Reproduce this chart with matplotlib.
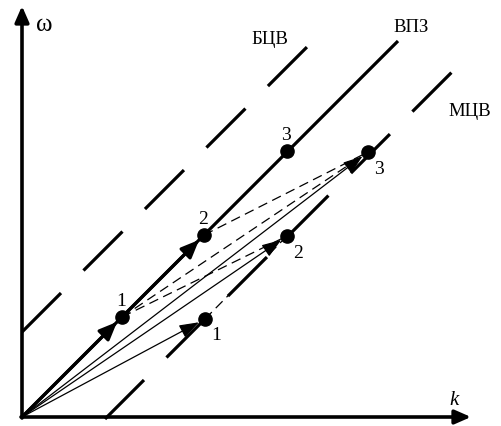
import matplotlib
matplotlib.use("Agg")
import matplotlib.pyplot as plt

plt.rcParams['font.family'] = ['Liberation Serif', 'DejaVu Serif']
plt.rcParams['lines.scale_dashes'] = False

# points on the ВПЗ line and on the МЦВ line
k_vpz = [100, 182, 265]
w_vpz = [100, 182, 266]
k_mcv = [183, 265, 346]
w_mcv = [98, 181, 265]
point_labels = ['1', '2', '3']

# the three dispersion lines: omega = k + shift, drawn between k_from and k_to
line_names = ['БЦВ', 'ВПЗ', 'МЦВ']
line_shift = [85, 0, -85]
line_k_from = [0, 0, 83]
line_k_to = [286, 376, 431]

k_max = 449
w_max = 411

fig = plt.figure(figsize=(5.01, 4.27), dpi=100)
ax = fig.add_axes([0, 0, 1, 1])
ax.set_xlim(-22, 479)
ax.set_ylim(-9, 418)
ax.set_axis_off()

# axes with arrows
axis_arrow = dict(arrowstyle='-|>,head_length=0.8,head_width=0.35', lw=2.6,
                  color='black', shrinkA=0, shrinkB=0, mutation_scale=12)
ax.annotate('', xy=(0, w_max), xytext=(0, -1), arrowprops=axis_arrow)
ax.annotate('', xy=(k_max, 0), xytext=(-1, 0), arrowprops=axis_arrow)
ax.text(14, 393, 'ω', fontsize=18, ha='left', va='center')
ax.text(432, 17, 'k', fontsize=15, style='italic', ha='center', va='center')

# dispersion lines
long_dash = (39.7, 22.9)
for name, s, k0, k1 in zip(line_names, line_shift, line_k_from, line_k_to):
    if s == 0:
        ax.plot([k0, k1], [k0 + s, k1 + s], color='black', lw=2.3,
                solid_capstyle='butt')
    else:
        ax.plot([k0, k1], [k0 + s, k1 + s], color='black', lw=2.3,
                dashes=long_dash, dash_capstyle='butt')

ax.text(248, 378, 'БЦВ', fontsize=13.5, ha='center', va='center')
ax.text(389, 390, 'ВПЗ', fontsize=13.5, ha='center', va='center')
ax.text(448, 307, 'МЦВ', fontsize=13.5, ha='center', va='center')

# thin dashed transitions between the points
thin_dash = (7, 4)
pairs = [((k_vpz[0], w_vpz[0]), (k_mcv[1], w_mcv[1])),
         ((k_vpz[0], w_vpz[0]), (k_mcv[2], w_mcv[2])),
         ((k_vpz[1], w_vpz[1]), (k_mcv[2], w_mcv[2])),
         ((k_mcv[0], w_mcv[0]), (k_mcv[1], w_mcv[1]))]
for a, b in pairs:
    ax.plot([a[0], b[0]], [a[1], b[1]], color='black', lw=0.9, dashes=thin_dash)

# open heads on the dashed lines arriving at ВПЗ point 1
for j in (1, 2):
    ax.annotate('', xy=(k_vpz[0], w_vpz[0]), xytext=(k_mcv[j], w_mcv[j]),
                arrowprops=dict(arrowstyle='->,head_length=0.7,head_width=0.25',
                                lw=0.8, color='black', linestyle=(0, (0, 100)),
                                shrinkA=0, shrinkB=6, mutation_scale=10))

# thick arrows along ВПЗ
thick_arrow = dict(arrowstyle='-|>,head_length=0.9,head_width=0.38', lw=2.3,
                   color='black', shrinkA=0, shrinkB=5, mutation_scale=12)
ax.annotate('', xy=(k_vpz[0], w_vpz[0]), xytext=(0, 0), arrowprops=thick_arrow)
ax.annotate('', xy=(k_vpz[1], w_vpz[1]), xytext=(k_vpz[0], w_vpz[0]),
            arrowprops=thick_arrow)

# thin arrows from the origin to the МЦВ points
thin_arrow = dict(arrowstyle='-|>,head_length=1.0,head_width=0.35', lw=0.9,
                  color='black', shrinkA=0, shrinkB=5, mutation_scale=12)
for kk, ww in zip(k_mcv, w_mcv):
    ax.annotate('', xy=(kk, ww), xytext=(0, 0), arrowprops=thin_arrow)

# points and their numbers
ax.plot(k_vpz, w_vpz, 'o', color='black', ms=9.5)
ax.plot(k_mcv, w_mcv, 'o', color='black', ms=9.5)
for kk, ww, t in zip(k_vpz, w_vpz, point_labels):
    ax.text(kk - 1, ww + 16, t, fontsize=14, ha='center', va='center')
for kk, ww, t in zip(k_mcv, w_mcv, point_labels):
    ax.text(kk + 11, ww - 16, t, fontsize=14, ha='center', va='center')

fig.savefig('out.png', dpi=100)
